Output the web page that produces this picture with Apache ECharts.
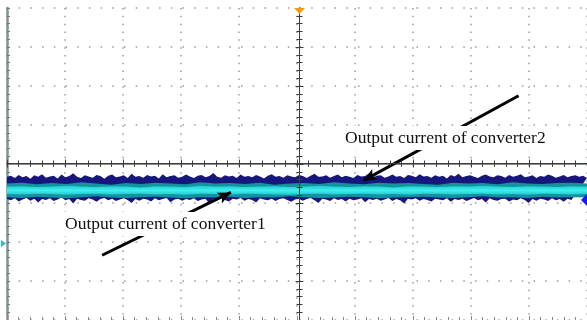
<!DOCTYPE html>
<html>
<head>
<meta charset="utf-8">
<script src="https://cdn.jsdelivr.net/npm/echarts@6/dist/echarts.min.js"></script>
<style>html,body{margin:0;padding:0;background:#fff;}#c{width:587px;height:320px;}</style>
</head>
<body>
<div id="c"></div>
<script>
// Divisions: x from -5 to 5 (10 div), y from -4 to 4 (8 div)
const xDivs = [-5, 5];
const yDivs = [-4, 4];

// Outer (navy) envelope of the noisy current trace, in divisions
const navyTop = [-0.33,-0.30,-0.36,-0.28,-0.34,-0.31,-0.38,-0.29,-0.33,-0.26,-0.35,-0.32,-0.30,-0.37,-0.27,-0.34,-0.31,-0.24,-0.33,-0.36,-0.29,-0.32,-0.35,-0.28,-0.31,-0.38,-0.30,-0.27,-0.34,-0.32,-0.29,-0.36,-0.25,-0.33,-0.31,-0.35,-0.28,-0.32,-0.30,-0.37,-0.26,-0.34,-0.31,-0.29,-0.35,-0.33,-0.27,-0.32,-0.36,-0.30,-0.28,-0.34,-0.31,-0.23,-0.33,-0.35,-0.29,-0.32,-0.30,-0.36,-0.27,-0.33,-0.31,-0.34,-0.28,-0.32,-0.37,-0.30,-0.26,-0.33,-0.31,-0.35,-0.29,-0.32,-0.34,-0.28,-0.31,-0.36,-0.30,-0.25,-0.33,-0.32,-0.29,-0.35,-0.31,-0.27,-0.34,-0.30,-0.33,-0.36,-0.28,-0.32,-0.31,-0.24,-0.34,-0.30,-0.29,-0.35,-0.32,-0.27,-0.33,-0.31,-0.36,-0.28,-0.30,-0.34,-0.26,-0.32,-0.31,-0.35,-0.29,-0.33,-0.30,-0.37,-0.28,-0.32,-0.25,-0.34,-0.31,-0.29,-0.33,-0.36,-0.30,-0.27,-0.32,-0.34,-0.29,-0.31,-0.35,-0.28,-0.33,-0.30,-0.26,-0.34,-0.32,-0.29,-0.36,-0.31,-0.33,-0.27,-0.30,-0.35,-0.32,-0.28,-0.34,-0.31,-0.29,-0.33,-0.30,-0.36];
const navyBot = [-0.90,-0.93,-0.88,-0.96,-0.91,-0.87,-0.94,-0.89,-0.99,-0.90,-0.92,-0.88,-0.95,-0.91,-0.86,-0.93,-0.90,-1.01,-0.89,-0.92,-0.94,-0.88,-0.91,-0.97,-0.90,-0.87,-0.93,-0.89,-0.95,-0.91,-0.88,-0.92,-1.00,-0.90,-0.94,-0.89,-0.91,-0.96,-0.88,-0.93,-0.90,-0.87,-0.98,-0.91,-0.89,-0.94,-0.90,-0.92,-0.88,-0.95,-0.91,-0.89,-1.02,-0.90,-0.93,-0.88,-0.92,-0.96,-0.89,-0.91,-0.87,-0.94,-0.90,-0.92,-0.99,-0.88,-0.91,-0.93,-0.89,-0.95,-0.90,-0.88,-0.92,-0.97,-0.91,-0.89,-0.94,-0.90,-0.87,-0.93,-1.00,-0.89,-0.91,-0.95,-0.88,-0.92,-0.90,-0.96,-0.89,-0.93,-0.91,-0.88,-0.98,-0.90,-0.92,-0.89,-0.94,-0.91,-0.87,-0.95,-0.90,-0.93,-1.01,-0.89,-0.91,-0.88,-0.94,-0.90,-0.92,-0.96,-0.89,-0.91,-0.93,-0.88,-0.97,-0.90,-0.92,-0.89,-0.95,-0.91,-0.87,-0.93,-0.90,-0.99,-0.88,-0.92,-0.94,-0.90,-0.89,-0.96,-0.91,-0.93,-0.88,-0.92,-1.00,-0.90,-0.94,-0.89,-0.91,-0.95,-0.88,-0.93,-0.90,-0.97,-0.89,-0.92];
// Inner teal and bright cyan bands
const tealTop = [-0.50,-0.48,-0.52,-0.49,-0.51,-0.47,-0.50,-0.53,-0.49,-0.51,-0.48,-0.50,-0.52,-0.47,-0.50,-0.49,-0.51,-0.48,-0.53,-0.50,-0.49,-0.51,-0.47,-0.50,-0.52,-0.48,-0.50,-0.49,-0.51,-0.53,-0.48,-0.50,-0.49,-0.52,-0.47,-0.50,-0.51,-0.49,-0.48,-0.50];
const tealBot = [-0.85,-0.87,-0.84,-0.86,-0.88,-0.85,-0.83,-0.86,-0.87,-0.85,-0.84,-0.86,-0.88,-0.85,-0.86,-0.84,-0.87,-0.85,-0.86,-0.83,-0.85,-0.87,-0.86,-0.84,-0.85,-0.88,-0.86,-0.85,-0.84,-0.86,-0.87,-0.85,-0.83,-0.86,-0.85,-0.87,-0.84,-0.86,-0.85,-0.86];
const cyanTop = [-0.58,-0.57,-0.59,-0.58,-0.56,-0.58,-0.59,-0.57,-0.58,-0.60,-0.57,-0.58,-0.59,-0.56,-0.58,-0.57,-0.59,-0.58,-0.57,-0.59,-0.58,-0.56,-0.58,-0.59,-0.57,-0.58,-0.60,-0.57,-0.58,-0.59,-0.57,-0.58,-0.56,-0.58,-0.59,-0.57,-0.58,-0.59,-0.57,-0.58];
const cyanBot = [-0.77,-0.78,-0.76,-0.77,-0.79,-0.77,-0.76,-0.78,-0.77,-0.76,-0.78,-0.77,-0.79,-0.76,-0.77,-0.78,-0.76,-0.77,-0.78,-0.79,-0.77,-0.76,-0.78,-0.77,-0.76,-0.78,-0.77,-0.79,-0.76,-0.77,-0.78,-0.77,-0.76,-0.78,-0.77,-0.79,-0.76,-0.77,-0.78,-0.77];

// Annotations (arrow start / end in divisions) and labels
const arrow1 = [[-3.36, -2.34], [-1.14, -0.73]];
const arrow2 = [[3.82, 1.75], [1.15, -0.42]];
const label1 = 'Output current of converter1';
const label2 = 'Output current of converter2';

const chart = echarts.init(document.getElementById('c'), null, {renderer: 'canvas'});

function xAt(i, n) { return xDivs[0] + (xDivs[1] - xDivs[0]) * i / (n - 1); }

function band(api, top, bot, fill) {
  const pts = [];
  const n = top.length;
  for (let i = 0; i < n; i++) pts.push(api.coord([xAt(i, n), top[i]]));
  for (let i = n - 1; i >= 0; i--) pts.push(api.coord([xAt(i, n), bot[i]]));
  return {type: 'polygon', shape: {points: pts}, style: {fill: fill}};
}

const gridW = 585, gridH = 313;
const baseX = {type: 'value', min: xDivs[0], max: xDivs[1], interval: 1, axisLabel: {show: false}, splitLine: {show: false}};
const baseY = {type: 'value', min: yDivs[0], max: yDivs[1], interval: 1, axisLabel: {show: false}, splitLine: {show: false}};

const option = {
  animation: false,
  backgroundColor: '#ffffff',
  grid: {left: 7, top: 8, width: gridW, height: gridH, containLabel: false},
  xAxis: [
    Object.assign({}, baseX, {
      position: 'top',
      axisLine: {show: true, lineStyle: {color: '#86928c', width: 2}},
      axisTick: {show: true, inside: true, length: 3, lineStyle: {color: '#777'}},
      minorTick: {show: true, splitNumber: 5, length: 3, lineStyle: {color: '#777'}},
      splitLine: {show: true, lineStyle: {color: '#9a9a9a', width: 1.5, type: [1.5, gridH / 40 - 1.5]}}
    }),
    Object.assign({}, baseX, {
      position: 'bottom', offset: -gridH / 2, z: 10,
      axisLine: {show: true, onZero: false, lineStyle: {color: '#3c3c3c', width: 1}},
      axisTick: {show: true, inside: true, length: 4, lineStyle: {color: '#3c3c3c'}},
      minorTick: {show: true, splitNumber: 5, length: 3, lineStyle: {color: '#3c3c3c'}}
    }),
    Object.assign({}, baseX, {
      position: 'bottom', offset: -gridH / 2, z: 10,
      axisLine: {show: true, onZero: false, lineStyle: {color: '#3c3c3c', width: 1}},
      axisTick: {show: true, inside: false, length: 4, lineStyle: {color: '#3c3c3c'}},
      minorTick: {show: true, splitNumber: 5, length: 3, lineStyle: {color: '#3c3c3c'}}
    }),
    Object.assign({}, baseX, {
      position: 'bottom',
      axisLine: {show: false, onZero: false},
      axisTick: {show: true, inside: true, length: 4, lineStyle: {color: '#888'}},
      minorTick: {show: true, splitNumber: 5, length: 3, lineStyle: {color: '#888'}}
    })
  ],
  yAxis: [
    Object.assign({}, baseY, {
      position: 'left',
      axisLine: {show: true, onZero: false, lineStyle: {color: '#86928c', width: 2.5}},
      axisTick: {show: true, inside: true, length: 3, lineStyle: {color: '#777'}},
      minorTick: {show: true, splitNumber: 5, length: 3, lineStyle: {color: '#777'}},
      splitLine: {show: true, lineStyle: {color: '#9a9a9a', width: 1.5, type: [1.5, gridW / 50 - 1.5]}}
    }),
    Object.assign({}, baseY, {
      position: 'left', offset: -gridW / 2, z: 10,
      axisLine: {show: true, onZero: false, lineStyle: {color: '#3c3c3c', width: 1}},
      axisTick: {show: true, inside: true, length: 4, lineStyle: {color: '#3c3c3c'}},
      minorTick: {show: true, splitNumber: 5, length: 3, lineStyle: {color: '#3c3c3c'}}
    }),
    Object.assign({}, baseY, {
      position: 'left', offset: -gridW / 2, z: 10,
      axisLine: {show: true, onZero: false, lineStyle: {color: '#3c3c3c', width: 1}},
      axisTick: {show: true, inside: false, length: 4, lineStyle: {color: '#3c3c3c'}},
      minorTick: {show: true, splitNumber: 5, length: 3, lineStyle: {color: '#3c3c3c'}}
    })
  ],
  series: [
    {
      type: 'custom',
      xAxisIndex: 0, yAxisIndex: 0,
      z: 2,
      silent: true,
      clip: true,
      data: [[0, 0]],
      renderItem: function (params, api) {
        const cyanFill = new echarts.graphic.LinearGradient(0, 0, 0, 1, [
          {offset: 0, color: '#22c8cf'},
          {offset: 0.5, color: '#3ef0ee'},
          {offset: 1, color: '#22c8cf'}
        ]);
        return {
          type: 'group',
          children: [
            band(api, navyTop, navyBot, '#16167c'),
            band(api, tealTop, tealBot, '#12949f'),
            band(api, cyanTop, cyanBot, cyanFill)
          ]
        };
      }
    },
    {
      type: 'scatter',
      xAxisIndex: 0, yAxisIndex: 0,
      z: 20,
      silent: true,
      symbolSize: 0,
      data: [arrow1[0], arrow2[0]],
      markLine: {
        silent: true,
        symbol: ['none', 'arrow'],
        symbolSize: [9, 13],
        label: {show: false},
        lineStyle: {color: '#000', width: 3, type: 'solid'},
        emphasis: {disabled: true},
        data: [
          [{coord: arrow1[0]}, {coord: arrow1[1]}],
          [{coord: arrow2[0]}, {coord: arrow2[1]}]
        ]
      }
    }
  ],
  graphic: [
    {type: 'polygon', z: 30, shape: {points: [[294, 8], [305, 8], [299.5, 14]]}, style: {fill: '#f29a16'}},
    {type: 'polygon', z: 30, shape: {points: [[1, 240], [1, 247], [6, 243.5]]}, style: {fill: '#2fbccc'}},
    {type: 'polygon', z: 30, shape: {points: [[587, 194], [587, 206], [581, 200]]}, style: {fill: '#1a1aff'}},
    {type: 'text', z: 30, left: 343, top: 126, style: {text: label2, font: '17.5px "Liberation Serif"', fill: '#111', backgroundColor: '#fff', padding: [3, 2, 3, 2]}},
    {type: 'text', z: 30, left: 63, top: 212, style: {text: label1, font: '17.5px "Liberation Serif"', fill: '#111', backgroundColor: '#fff', padding: [3, 2, 3, 2]}}
  ]
};
chart.setOption(option);
</script>
</body>
</html>
